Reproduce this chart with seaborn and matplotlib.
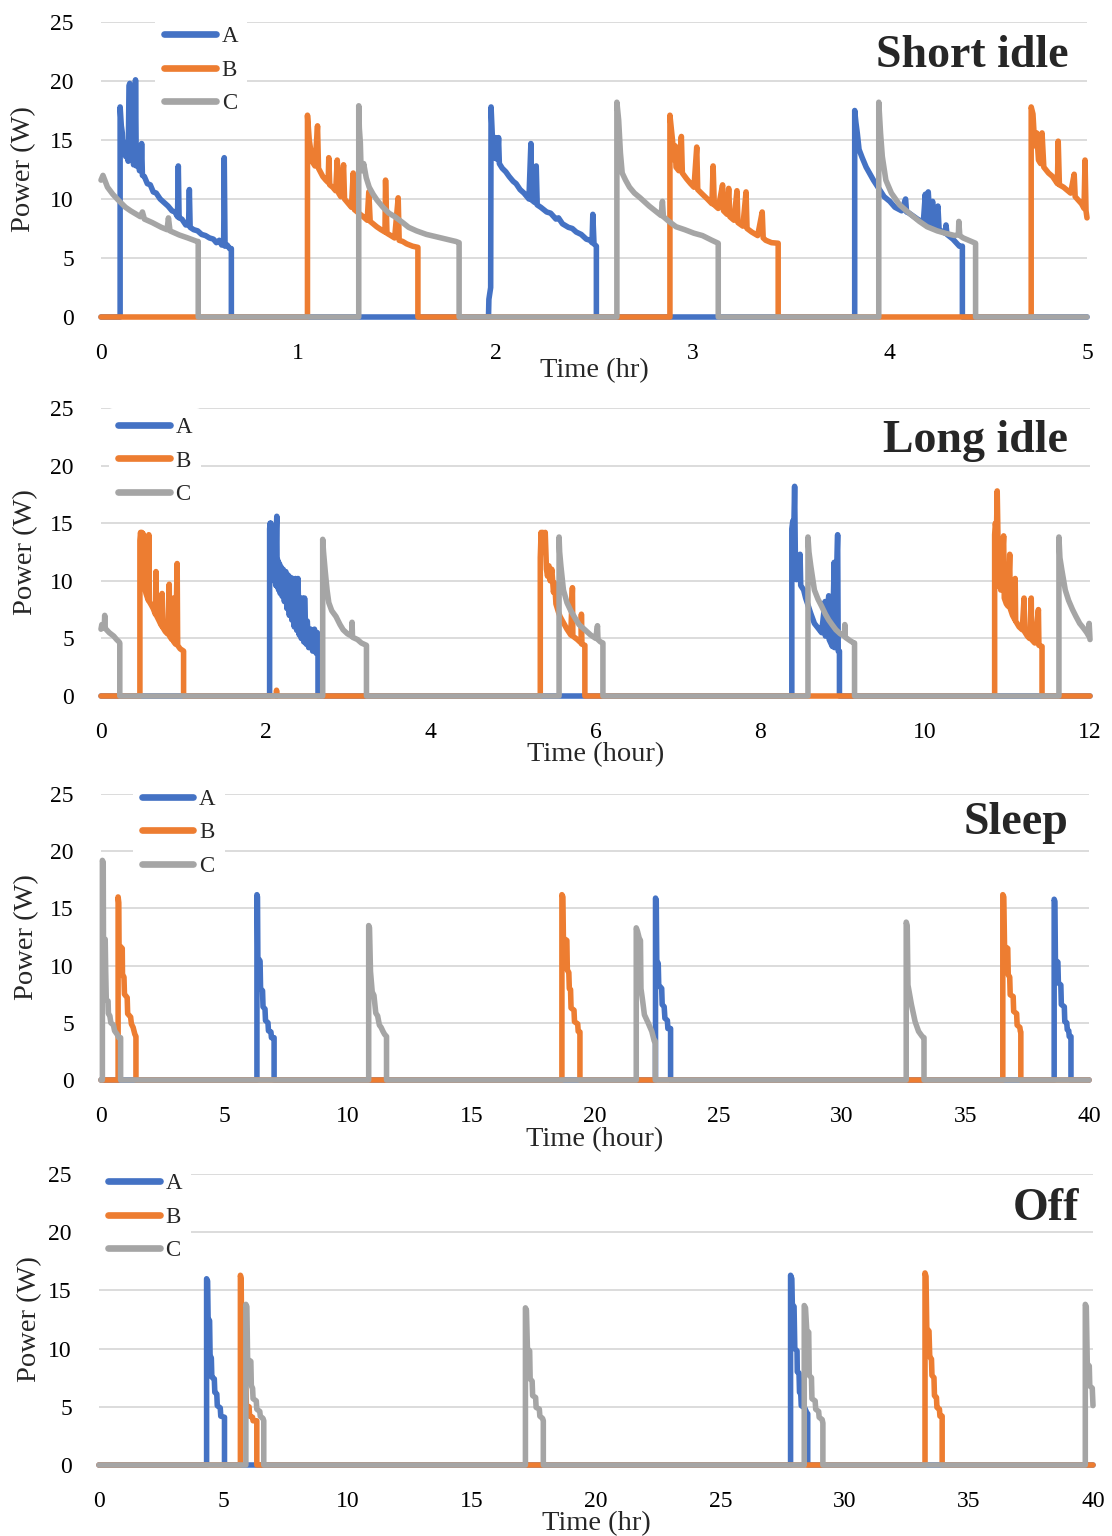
import matplotlib
matplotlib.use('Agg')
import matplotlib.pyplot as plt
import pandas as pd
import seaborn as sns

sns.set_style('white')
plt.rcParams['font.family'] = ['Liberation Serif', 'DejaVu Serif']

# ---- data: (time, power) points ----
# Short idle (hours 0-5)
short_a = [(0, 0), (0.097, 0), (0.097, 17.8), (0.103, 16.2), (0.108, 15.6), (0.112, 14.0), (0.118, 14.8),
           (0.125, 13.6), (0.132, 14.3), (0.138, 13.2), (0.142, 19.6), (0.146, 19.8), (0.150, 13.4),
           (0.158, 14.2), (0.165, 12.9), (0.172, 13.3), (0.175, 20.1), (0.179, 12.8), (0.186, 13.6),
           (0.195, 12.4), (0.203, 12.8), (0.206, 14.7), (0.210, 12.0), (0.220, 11.9), (0.235, 11.3),
           (0.250, 11.2), (0.265, 10.6), (0.280, 10.5), (0.300, 10.0), (0.320, 9.7), (0.340, 9.4),
           (0.360, 9.0), (0.375, 8.9), (0.388, 8.5), (0.392, 12.8), (0.396, 8.4), (0.410, 8.3),
           (0.430, 7.8), (0.444, 7.8), (0.448, 10.8), (0.452, 7.6), (0.470, 7.4), (0.490, 7.3),
           (0.510, 7.0), (0.530, 6.9), (0.550, 6.7), (0.570, 6.6), (0.585, 6.3), (0.600, 6.5),
           (0.612, 6.1), (0.622, 6.2), (0.625, 13.5), (0.629, 6.0), (0.640, 6.1), (0.652, 5.8),
           (0.661, 5.8), (0.661, 0),
           (1.965, 0), (1.967, 1.5), (1.976, 2.5), (1.978, 17.8), (1.984, 15.5), (1.990, 14.0),
           (1.995, 13.5), (2.000, 15.2), (2.005, 13.4), (2.012, 13.9), (2.016, 15.2), (2.020, 13.0),
           (2.035, 12.6), (2.053, 12.3), (2.070, 11.9), (2.090, 11.5), (2.105, 11.3), (2.125, 10.8),
           (2.145, 10.5), (2.170, 10.0), (2.180, 14.7), (2.185, 9.9), (2.200, 9.7), (2.207, 12.8),
           (2.212, 9.5), (2.230, 9.3), (2.260, 8.9), (2.280, 8.8), (2.307, 8.3), (2.320, 8.4),
           (2.340, 7.9), (2.370, 7.6), (2.390, 7.5), (2.410, 7.2), (2.435, 7.0), (2.461, 6.6),
           (2.480, 6.5), (2.490, 6.3), (2.494, 8.7), (2.500, 6.2), (2.512, 6.0), (2.512, 0),
           (3.822, 0), (3.822, 17.5), (3.828, 16.5), (3.835, 15.6), (3.844, 14.2), (3.860, 13.5),
           (3.880, 12.7), (3.900, 12.1), (3.917, 11.6), (3.940, 11.0), (3.971, 10.2), (4.000, 9.8),
           (4.026, 9.3), (4.060, 9.0), (4.080, 10.0), (4.085, 8.9), (4.098, 8.8), (4.140, 8.3),
           (4.170, 8.0), (4.180, 10.4), (4.185, 8.0), (4.195, 10.6), (4.205, 7.8), (4.217, 9.8),
           (4.225, 7.7), (4.244, 9.4), (4.250, 7.4), (4.281, 7.1), (4.285, 7.8), (4.290, 7.0),
           (4.320, 6.6), (4.353, 6.0), (4.368, 6.0), (4.368, 0), (5.0, 0)]
short_b = [(0, 0), (1.047, 0), (1.047, 17.1), (1.056, 15.0), (1.063, 14.2), (1.070, 13.2), (1.085, 12.8),
           (1.098, 16.2), (1.103, 12.6), (1.125, 11.9), (1.140, 11.6), (1.152, 11.4), (1.155, 13.5),
           (1.160, 11.2), (1.175, 11.0), (1.190, 10.7), (1.198, 13.3), (1.205, 10.5), (1.216, 10.2),
           (1.230, 12.9), (1.235, 10.0), (1.255, 9.6), (1.270, 9.3), (1.279, 12.2), (1.285, 9.1),
           (1.307, 8.8), (1.330, 8.5), (1.350, 8.2), (1.358, 10.6), (1.365, 8.1), (1.380, 7.9),
           (1.398, 7.65), (1.420, 7.4), (1.440, 7.2), (1.443, 11.6), (1.450, 7.1), (1.470, 6.9),
           (1.489, 6.7), (1.507, 10.1), (1.512, 6.5), (1.530, 6.4), (1.550, 6.2), (1.580, 6.0),
           (1.607, 5.9), (1.607, 0),
           (2.885, 0), (2.885, 17.1), (2.898, 15.0), (2.907, 13.3), (2.912, 14.5), (2.916, 12.7),
           (2.930, 12.4), (2.943, 15.3), (2.948, 12.2), (2.970, 11.7), (2.990, 11.3), (3.007, 11.0),
           (3.021, 14.4), (3.026, 10.8), (3.050, 10.4), (3.075, 10.0), (3.098, 9.6), (3.104, 12.8),
           (3.110, 9.5), (3.130, 9.2), (3.152, 11.2), (3.157, 9.0), (3.175, 8.7), (3.183, 10.9),
           (3.189, 8.5), (3.210, 8.2), (3.225, 10.7), (3.230, 8.0), (3.255, 7.7), (3.271, 10.6),
           (3.276, 7.5), (3.300, 7.2), (3.330, 6.9), (3.353, 8.9), (3.358, 6.7), (3.371, 6.5),
           (3.400, 6.3), (3.434, 6.25), (3.434, 0),
           (4.717, 0), (4.717, 17.8), (4.726, 17.2), (4.735, 14.5), (4.745, 15.6), (4.754, 13.3),
           (4.765, 13.0), (4.772, 15.6), (4.781, 12.7), (4.805, 12.2), (4.826, 11.9), (4.850, 11.3),
           (4.854, 14.9), (4.860, 11.2), (4.881, 11.0), (4.917, 10.5), (4.935, 12.1), (4.940, 10.2),
           (4.972, 9.6), (4.985, 9.2), (4.990, 13.3), (4.995, 9.0), (5.0, 8.4)]
short_c = [(0, 11.6), (0.010, 12.0), (0.033, 11.0), (0.060, 10.4), (0.088, 9.9), (0.124, 9.3), (0.150, 9.0),
           (0.170, 8.8), (0.200, 8.5), (0.210, 8.9), (0.220, 8.3), (0.260, 8.0), (0.306, 7.6),
           (0.335, 7.4), (0.342, 8.4), (0.350, 7.3), (0.397, 6.95), (0.440, 6.7), (0.488, 6.4),
           (0.493, 6.4), (0.493, 0),
           (1.307, 0), (1.307, 17.9), (1.310, 16.0), (1.315, 14.8), (1.318, 13.0), (1.325, 12.4),
           (1.332, 13.0), (1.345, 11.8), (1.360, 11.0), (1.380, 10.4), (1.400, 9.9), (1.430, 9.3),
           (1.460, 8.8), (1.490, 8.5), (1.530, 8.0), (1.560, 7.6), (1.600, 7.3), (1.650, 7.0),
           (1.700, 6.8), (1.750, 6.6), (1.800, 6.4), (1.816, 6.3), (1.816, 0),
           (2.616, 0), (2.616, 18.2), (2.625, 16.7), (2.634, 13.9), (2.643, 12.2), (2.660, 11.6),
           (2.680, 11.0), (2.705, 10.5), (2.734, 10.1), (2.780, 9.4), (2.825, 8.8), (2.840, 8.6),
           (2.847, 9.8), (2.852, 8.5), (2.880, 8.1), (2.916, 7.65), (2.960, 7.4), (3.007, 7.1),
           (3.050, 6.9), (3.098, 6.5), (3.130, 6.25), (3.130, 0),
           (3.944, 0), (3.944, 18.2), (3.953, 15.6), (3.962, 13.6), (3.980, 11.6), (4.008, 10.5),
           (4.050, 9.5), (4.098, 8.8), (4.150, 8.1), (4.189, 7.65), (4.240, 7.3), (4.281, 7.1),
           (4.330, 6.9), (4.348, 7.0), (4.350, 8.1), (4.355, 6.9), (4.372, 6.7), (4.400, 6.5),
           (4.435, 6.25), (4.435, 0), (5.0, 0)]

# Long idle (hours 0-12)
long_a = [(0, 0), (2.046, 0), (2.046, 14.5), (2.052, 15.0), (2.058, 13.0), (2.062, 15.0), (2.068, 12.0),
          (2.075, 14.0), (2.085, 10.5), (2.092, 12.5), (2.100, 10.0), (2.112, 11.8), (2.120, 9.6),
          (2.128, 14.5), (2.133, 15.6), (2.138, 9.5), (2.145, 11.8), (2.155, 9.2), (2.165, 11.5),
          (2.175, 8.9), (2.185, 11.2), (2.199, 8.65), (2.210, 11.0), (2.225, 8.2), (2.242, 10.8),
          (2.255, 7.6), (2.270, 10.5), (2.285, 7.0), (2.300, 10.3), (2.315, 6.6), (2.329, 10.2),
          (2.345, 6.0), (2.360, 10.2), (2.375, 5.7), (2.390, 10.2), (2.405, 5.3), (2.416, 8.5),
          (2.430, 5.0), (2.445, 8.5), (2.460, 4.7), (2.470, 8.5), (2.490, 4.5), (2.503, 6.5),
          (2.520, 4.2), (2.545, 5.8), (2.568, 3.9), (2.590, 5.8), (2.612, 3.7), (2.625, 5.5),
          (2.633, 3.7), (2.633, 0),
          (8.382, 0), (8.382, 14.5), (8.394, 15.2), (8.405, 14.0), (8.416, 18.2), (8.425, 12.0),
          (8.438, 10.1), (8.460, 11.0), (8.482, 12.3), (8.490, 9.6), (8.526, 9.2), (8.550, 8.5),
          (8.569, 8.1), (8.610, 7.2), (8.656, 6.3), (8.700, 5.9), (8.743, 5.5), (8.786, 8.2),
          (8.790, 5.2), (8.830, 8.7), (8.835, 4.9), (8.874, 4.3), (8.896, 11.6), (8.900, 4.2),
          (8.938, 14.0), (8.945, 3.9), (8.960, 3.9), (8.960, 0), (12.0, 0)]
long_b = [(0, 0), (0.472, 0), (0.472, 13.5), (0.480, 14.2), (0.488, 13.6), (0.496, 14.2), (0.502, 12.0),
          (0.510, 14.1), (0.518, 9.8), (0.526, 13.8), (0.534, 9.3), (0.546, 8.9), (0.565, 8.5),
          (0.575, 8.3), (0.580, 14.0), (0.586, 8.2), (0.610, 7.9), (0.633, 7.6), (0.660, 7.1),
          (0.667, 10.8), (0.672, 7.0), (0.700, 6.6), (0.720, 6.3), (0.735, 6.1), (0.741, 8.9),
          (0.746, 6.0), (0.780, 5.6), (0.806, 5.4), (0.828, 9.7), (0.832, 5.2), (0.860, 4.9),
          (0.880, 8.5), (0.884, 4.7), (0.905, 4.5), (0.924, 11.5), (0.930, 4.4), (0.960, 4.1),
          (1.002, 3.9), (1.002, 0),
          (2.125, 0), (2.130, 0.5), (2.135, 0),
          (5.330, 0), (5.330, 12.0), (5.340, 14.2), (5.350, 12.5), (5.360, 14.2), (5.375, 13.0),
          (5.390, 14.2), (5.405, 11.0), (5.418, 10.4), (5.435, 11.3), (5.450, 10.0), (5.470, 11.0),
          (5.490, 9.0), (5.505, 9.8), (5.520, 8.0), (5.550, 7.3), (5.570, 6.9), (5.600, 6.5),
          (5.654, 5.8), (5.700, 5.3), (5.720, 9.4), (5.725, 5.2), (5.780, 4.9), (5.825, 4.6),
          (5.829, 7.1), (5.835, 4.5), (5.871, 4.4), (5.871, 0),
          (10.843, 0), (10.843, 14.0), (10.852, 15.0), (10.865, 14.2), (10.874, 17.8), (10.885, 13.0),
          (10.896, 9.5), (10.905, 12.5), (10.917, 9.2), (10.935, 11.5), (10.952, 13.9), (10.960, 8.5),
          (10.985, 8.0), (11.005, 7.8), (11.026, 12.3), (11.032, 7.6), (11.060, 7.0), (11.090, 6.6),
          (11.092, 10.2), (11.098, 6.5), (11.140, 6.0), (11.178, 5.75), (11.200, 8.5), (11.205, 5.6),
          (11.240, 5.2), (11.266, 5.0), (11.287, 8.5), (11.292, 4.9), (11.330, 4.6), (11.374, 7.5),
          (11.380, 4.4), (11.418, 4.3), (11.418, 0), (12.0, 0)]
long_c = [(0, 5.8), (0.010, 6.2), (0.025, 5.9), (0.040, 6.0), (0.045, 7.0), (0.050, 5.9), (0.067, 5.75),
          (0.100, 5.5), (0.154, 5.2), (0.190, 4.9), (0.219, 4.7), (0.228, 4.6), (0.228, 0),
          (2.690, 0), (2.690, 13.6), (2.700, 12.5), (2.721, 10.8), (2.743, 9.2), (2.764, 8.1),
          (2.800, 7.4), (2.851, 6.9), (2.900, 6.2), (2.938, 5.75), (2.990, 5.4), (3.040, 5.2),
          (3.046, 6.4), (3.052, 5.1), (3.112, 4.9), (3.160, 4.6), (3.221, 4.4), (3.221, 0),
          (5.558, 0), (5.558, 13.8), (5.565, 12.5), (5.580, 11.3), (5.611, 9.2), (5.654, 8.1),
          (5.700, 7.4), (5.741, 6.9), (5.800, 6.2), (5.871, 5.75), (5.940, 5.3), (6.003, 5.0),
          (6.024, 6.1), (6.030, 4.9), (6.060, 4.7), (6.090, 4.6), (6.090, 0),
          (8.578, 0), (8.578, 13.8), (8.590, 12.5), (8.612, 11.3), (8.656, 9.2), (8.700, 8.4),
          (8.743, 7.8), (8.790, 7.1), (8.830, 6.6), (8.870, 6.2), (8.917, 5.75), (8.970, 5.4),
          (9.020, 5.2), (9.025, 6.2), (9.030, 5.1), (9.090, 4.8), (9.135, 4.6), (9.143, 4.6),
          (9.143, 0),
          (11.623, 0), (11.623, 13.8), (11.635, 12.0), (11.657, 11.0), (11.700, 9.2), (11.740, 8.3),
          (11.788, 7.5), (11.830, 6.9), (11.875, 6.3), (11.920, 5.9), (11.961, 5.5), (11.985, 5.2),
          (11.990, 6.3), (12.0, 4.9)]

# Sleep (hours 0-40)
sleep_a = [(0, 0), (6.313, 0), (6.313, 16.2), (6.335, 16.0), (6.350, 10.7), (6.440, 10.4), (6.460, 8.0),
           (6.540, 7.8), (6.560, 6.4), (6.640, 6.2), (6.660, 5.2), (6.760, 5.0), (6.780, 4.3),
           (6.880, 4.2), (6.900, 3.7), (7.008, 3.7), (7.008, 0),
           (22.45, 0), (22.45, 15.9), (22.48, 15.7), (22.50, 10.4), (22.56, 10.2), (22.58, 8.3),
           (22.70, 8.0), (22.72, 6.6), (22.80, 6.4), (22.83, 5.4), (22.93, 5.2), (22.95, 4.5),
           (23.06, 4.5), (23.06, 0),
           (38.59, 0), (38.59, 15.8), (38.62, 15.6), (38.64, 10.5), (38.74, 10.3), (38.76, 8.5),
           (38.86, 8.3), (38.88, 6.6), (39.00, 6.4), (39.02, 5.1), (39.10, 5.0), (39.12, 4.4),
           (39.18, 4.3), (39.20, 3.8), (39.27, 3.8), (39.27, 0), (40, 0)]
sleep_b = [(0, 0), (0.693, 0), (0.693, 16.0), (0.720, 15.5), (0.730, 11.8), (0.860, 11.5), (0.870, 9.2),
           (0.930, 9.0), (0.950, 7.5), (1.060, 7.2), (1.080, 5.8), (1.200, 5.5), (1.230, 4.9),
           (1.300, 4.6), (1.370, 4.0), (1.415, 3.8), (1.415, 0),
           (18.66, 0), (18.66, 16.2), (18.70, 16.0), (18.72, 12.4), (18.86, 12.2), (18.88, 9.6),
           (18.94, 9.4), (18.96, 8.0), (19.01, 7.9), (19.03, 6.3), (19.15, 6.1), (19.17, 5.1),
           (19.30, 4.9), (19.32, 4.25), (19.39, 4.2), (19.39, 0),
           (36.51, 0), (36.51, 16.2), (36.55, 16.0), (36.58, 11.7), (36.71, 11.5), (36.73, 9.2),
           (36.79, 9.0), (36.81, 7.45), (36.93, 7.3), (36.95, 6.0), (37.07, 5.8), (37.09, 4.8),
           (37.20, 4.6), (37.22, 4.25), (37.24, 4.2), (37.24, 0), (40, 0)]
sleep_c = [(0, 0), (0.056, 0), (0.056, 19.2), (0.090, 19.0), (0.100, 12.0), (0.170, 12.3), (0.190, 9.5),
           (0.214, 7.0), (0.287, 6.9), (0.300, 5.8), (0.359, 5.6), (0.400, 5.0), (0.504, 4.8),
           (0.550, 4.3), (0.650, 4.0), (0.721, 3.7), (0.794, 3.7), (0.794, 0),
           (10.838, 0), (10.838, 13.5), (10.870, 13.3), (10.910, 9.5), (10.980, 7.7), (11.050, 7.4),
           (11.125, 5.85), (11.200, 5.6), (11.270, 4.8), (11.340, 4.6), (11.416, 4.25), (11.480, 4.0),
           (11.560, 3.8), (11.560, 0),
           (21.67, 0), (21.67, 13.3), (21.72, 13.0), (21.79, 12.4), (21.84, 12.2), (21.86, 8.0),
           (21.93, 6.9), (22.00, 5.7), (22.15, 5.0), (22.30, 4.25), (22.40, 3.4), (22.44, 3.4),
           (22.44, 0),
           (32.60, 0), (32.60, 13.8), (32.64, 13.5), (32.67, 8.3), (32.81, 6.6), (32.96, 5.1),
           (33.10, 4.25), (33.25, 3.8), (33.32, 3.7), (33.32, 0), (40, 0)]

# Off (hours 0-40)
off_a = [(0, 0), (4.33, 0), (4.33, 16.0), (4.37, 15.8), (4.39, 12.6), (4.45, 12.4), (4.47, 9.4),
         (4.52, 9.2), (4.54, 7.55), (4.64, 7.4), (4.66, 6.25), (4.74, 6.1), (4.76, 5.1), (4.88, 4.9),
         (4.90, 4.2), (5.05, 4.1), (5.05, 0),
         (27.83, 0), (27.83, 16.3), (27.88, 16.0), (27.90, 13.8), (27.97, 13.6), (28.00, 10.0),
         (28.09, 9.8), (28.10, 8.0), (28.17, 7.9), (28.19, 6.25), (28.24, 6.1), (28.26, 5.1),
         (28.40, 4.9), (28.48, 4.5), (28.52, 4.4), (28.52, 0), (40, 0)]
off_b = [(0, 0), (5.69, 0), (5.69, 16.3), (5.72, 16.0), (5.75, 9.1), (5.81, 8.9), (5.83, 6.8),
         (5.91, 6.6), (5.93, 5.1), (6.04, 5.0), (6.06, 4.2), (6.18, 4.1), (6.20, 3.8), (6.35, 3.8),
         (6.35, 0),
         (33.24, 0), (33.24, 16.5), (33.28, 16.2), (33.31, 11.75), (33.40, 11.5), (33.43, 9.3),
         (33.50, 9.1), (33.52, 7.7), (33.60, 7.5), (33.62, 5.96), (33.70, 5.8), (33.72, 4.95),
         (33.82, 4.8), (33.84, 4.2), (33.93, 4.2), (33.93, 0), (40, 0)]
off_c = [(0, 0), (5.91, 0), (5.91, 13.8), (5.95, 13.6), (5.98, 9.1), (6.11, 8.9), (6.13, 6.8),
         (6.18, 6.6), (6.20, 5.7), (6.33, 5.5), (6.35, 4.8), (6.47, 4.6), (6.49, 4.2), (6.60, 4.0),
         (6.63, 3.8), (6.63, 0),
         (17.16, 0), (17.16, 13.5), (17.20, 13.3), (17.24, 10.0), (17.33, 9.8), (17.35, 7.4),
         (17.43, 7.2), (17.45, 5.96), (17.57, 5.8), (17.59, 4.95), (17.72, 4.8), (17.74, 4.2),
         (17.85, 4.0), (17.88, 3.8), (17.88, 0),
         (28.38, 0), (28.38, 13.7), (28.43, 13.5), (28.48, 11.6), (28.56, 11.4), (28.58, 7.7),
         (28.67, 7.5), (28.69, 5.7), (28.82, 5.5), (28.84, 4.8), (28.96, 4.6), (28.98, 4.1),
         (29.10, 3.9), (29.13, 3.6), (29.13, 0),
         (39.69, 0), (39.69, 13.8), (39.73, 13.6), (39.77, 8.7), (39.85, 8.5), (39.87, 6.8),
         (39.97, 6.6), (40.0, 5.1)]

devices = ['A', 'B', 'C']
colors = {'A': '#4472C4', 'B': '#ED7D31', 'C': '#A5A5A5'}

W, H = 1112, 1536

# panel layout in pixels: left, right, y of 0, y of 25
panels = [
    dict(title='Short idle', data=[short_a, short_b, short_c], xmax=5, xstep=1, xlabel='Time (hr)',
         px=(101, 1087, 317, 22), title_xy=(0.981, 0.847), leg_xy=(0.055, 0.837),
         ylab_x=-0.078, xlab_y=-0.183),
    dict(title='Long idle', data=[long_a, long_b, long_c], xmax=12, xstep=2, xlabel='Time (hour)',
         px=(101, 1090, 696, 408), title_xy=(0.978, 0.847), leg_xy=(0.008, 0.816),
         ylab_x=-0.076, xlab_y=-0.204),
    dict(title='Sleep', data=[sleep_a, sleep_b, sleep_c], xmax=40, xstep=5, xlabel='Time (hour)',
         px=(101, 1089, 1080, 794), title_xy=(0.979, 0.860), leg_xy=(0.032, 0.864),
         ylab_x=-0.075, xlab_y=-0.209),
    dict(title='Off', data=[off_a, off_b, off_c], xmax=40, xstep=5, xlabel='Time (hr)',
         px=(99, 1093, 1465, 1174), title_xy=(0.986, 0.842), leg_xy=(0.0, 0.852),
         ylab_x=-0.070, xlab_y=-0.202),
]

fig = plt.figure(figsize=(W / 100, H / 100), dpi=100)

for p in panels:
    left, right, y0, y25 = p['px']
    ax = fig.add_axes([left / W, (H - y0) / H, (right - left) / W, (y0 - y25) / H])

    frames = []
    for name, pts in zip(devices, p['data']):
        d = pd.DataFrame(pts, columns=['time', 'power'])
        d['device'] = name
        frames.append(d)
    df = pd.concat(frames, ignore_index=True)

    sns.lineplot(data=df, x='time', y='power', hue='device', hue_order=devices, palette=colors,
                 estimator=None, sort=False, lw=4, ax=ax, clip_on=False,
                 solid_joinstyle='round', solid_capstyle='round')

    ax.set_xlim(0, p['xmax'])
    ax.set_ylim(0, 25)
    ax.set_xticks(range(0, p['xmax'] + 1, p['xstep']))
    ax.set_yticks(range(0, 26, 5))
    ax.grid(axis='y', color='#D9D9D9', lw=1.3)
    ax.grid(axis='x', visible=False)
    ax.set_axisbelow(True)
    for s in ax.spines.values():
        s.set_visible(False)
    ax.tick_params(axis='both', length=0, labelsize=17, colors='black')
    ax.tick_params(axis='x', pad=18.6)
    ax.tick_params(axis='y', pad=19.5)

    ax.set_ylabel('Power (W)', fontsize=20.5, va='center')
    ax.yaxis.set_label_coords(p['ylab_x'], 0.5)
    ax.set_xlabel(p['xlabel'], fontsize=20.5, va='center')
    ax.xaxis.set_label_coords(0.5, p['xlab_y'])

    ax.text(p['title_xy'][0], p['title_xy'][1], p['title'], transform=ax.transAxes,
            ha='right', va='baseline', fontsize=33, fontweight='bold')

    handles, labels = ax.get_legend_handles_labels()
    leg = ax.legend(handles, labels, loc='center left', bbox_to_anchor=p['leg_xy'],
                    frameon=True, facecolor='white', edgecolor='none', framealpha=1,
                    fontsize=16.5, handlelength=2.25, handletextpad=0.25, labelspacing=0.54,
                    borderaxespad=0, borderpad=0.4)
    for line in leg.get_lines():
        line.set_linewidth(4.8)
        line.set_solid_capstyle('round')

fig.savefig('out.png', dpi=100)
